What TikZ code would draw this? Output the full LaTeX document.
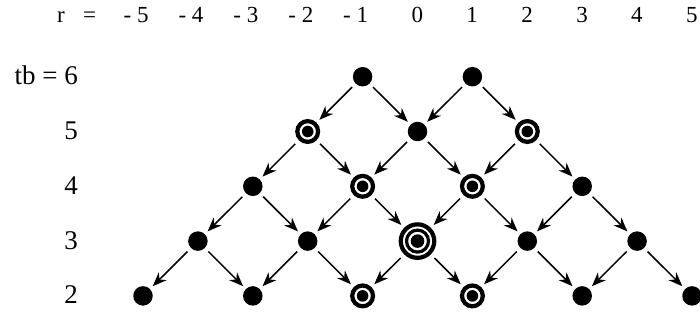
\documentclass[tikz,border=0pt]{standalone}
\usepackage{fontspec}
\setmainfont{Liberation Serif}
\usetikzlibrary{arrows.meta}
\tikzset{
  dotn/.style={circle,fill=black,minimum size=19.5pt,inner sep=0pt,outer sep=0pt},
  ringa/.style={circle,draw=black,line width=4.2pt,minimum size=20.8pt,inner sep=0pt,
    path picture={\fill[black] (path picture bounding box.center) circle (5.8pt);}},
  ringb/.style={circle,draw=black,line width=4.2pt,minimum size=33.5pt,inner sep=0pt,
    path picture={\draw[black,line width=3.2pt] (path picture bounding box.center) circle (11pt);
                  \fill[black] (path picture bounding box.center) circle (6.8pt);}},
  arr/.style={line width=1.5pt,-{Stealth[length=14pt,width=11pt,inset=4.5pt]},shorten >=4pt,shorten <=5pt},
  toplab/.style={anchor=base east,inner sep=0pt,font=\fontsize{23}{27}\selectfont},
  leftlab/.style={anchor=base east,inner sep=0pt,font=\fontsize{27}{30}\selectfont}
}
\begin{document}
\begin{tikzpicture}[x=1pt,y=-1pt]
\useasboundingbox (0,0) rectangle (700,320);
% top row labels
\node[anchor=base,inner sep=0pt,font=\fontsize{23}{27}\selectfont] (rlab) at (61,22.5) {r};
\node[anchor=base,inner sep=0pt,font=\fontsize{23}{27}\selectfont] (eqlab) at (89.5,22.5) {=};
\foreach \r/\txt in {-5/{- 5},-4/{- 4},-3/{- 3},-2/{- 2},-1/{- 1},0/0,1/1,2/2,3/3,4/4,5/5}
  \node[toplab] (top\r) at ({417.5+54.9*\r+5.75},22.5) {\txt};
% left labels
\node[leftlab] (tb6) at (78,{76.7+8}) {tb = 6};
\foreach \t in {5,4,3,2}
  \node[leftlab] (tb\t) at (78,{76.7+(6-\t)*54.8+8}) {\t};
% nodes
\foreach \r/\t/\s in {-1/6/dotn, 1/6/dotn, -2/5/ringa, 0/5/dotn, 2/5/ringa,
  -3/4/dotn, -1/4/ringa, 1/4/ringa, 3/4/dotn,
  -4/3/dotn, -2/3/dotn, 0/3/ringb, 2/3/dotn, 4/3/dotn,
  -5/2/dotn, -3/2/dotn, -1/2/ringa, 1/2/ringa, 3/2/dotn, 5/2/dotn}
  \node[\s] (n\t\r) at ({417.5+54.9*\r},{76.7+(6-\t)*54.8}) {};
% edges
\foreach \t/\b/\rs in {6/5/{-1,1}, 5/4/{-2,0,2}, 4/3/{-3,-1,1,3}, 3/2/{-4,-2,0,2,4}}{
  \foreach \r in \rs {
    \pgfmathtruncatemacro\rl{\r-1}
    \pgfmathtruncatemacro\rr{\r+1}
    \draw[arr] (n\t\r) -- (n\b\rl);
    \draw[arr] (n\t\r) -- (n\b\rr);
  }
}
\end{tikzpicture}
\end{document}
